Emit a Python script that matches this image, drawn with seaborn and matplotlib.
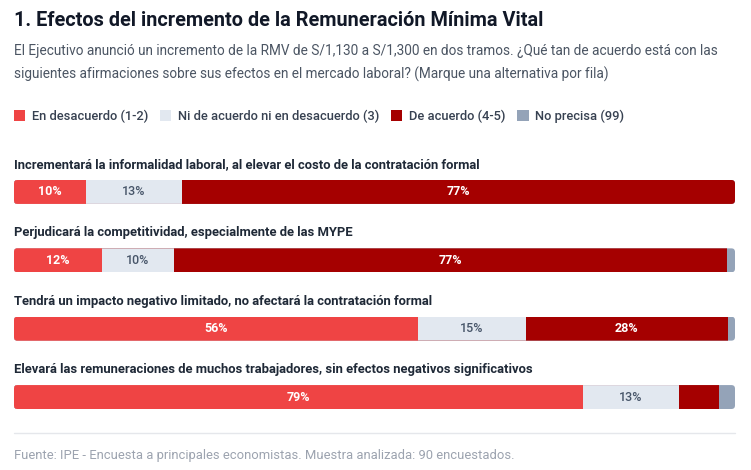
# Efectos del incremento de la RMV - stacked horizontal bars
import numpy as np
import pandas as pd
import matplotlib.pyplot as plt
import seaborn as sns
from matplotlib.patches import FancyBboxPatch, Patch
from matplotlib.lines import Line2D

# ---------------- data ----------------
statements = [
    "Incrementará la informalidad laboral, al elevar el costo de la contratación formal",
    "Perjudicará la competitividad, especialmente de las MYPE",
    "Tendrá un impacto negativo limitado, no afectará la contratación formal",
    "Elevará las remuneraciones de muchos trabajadores, sin efectos negativos significativos",
]
categories = ["En desacuerdo (1-2)", "Ni de acuerdo ni en desacuerdo (3)",
              "De acuerdo (4-5)", "No precisa (99)"]
desacuerdo = [10.0, 12.2, 56.0, 78.9]
neutral = [13.3, 10.0, 15.0, 13.3]
de_acuerdo = [76.7, 76.7, 28.0, 5.6]
no_precisa = [0.0, 1.1, 1.0, 2.2]

colors = ["#ef4444", "#e2e8f0", "#a50000", "#94a3b8"]
label_colors = ["white", "#475569", "white", "white"]

title = "1. Efectos del incremento de la Remuneración Mínima Vital"
subtitle = ("El Ejecutivo anunció un incremento de la RMV de S/1,130 a S/1,300 en dos tramos. "
            "¿Qué tan de acuerdo está con las\nsiguientes afirmaciones sobre sus efectos "
            "en el mercado laboral? (Marque una alternativa por fila)")
footer = "Fuente: IPE - Encuesta a principales economistas. Muestra analizada: 90 encuestados."

df = pd.DataFrame({
    "afirmacion": statements,
    categories[0]: desacuerdo,
    categories[1]: neutral,
    categories[2]: de_acuerdo,
    categories[3]: no_precisa,
})
cum = df[categories].cumsum(axis=1)

# ---------------- figure ----------------
sns.set_theme(style="white")
plt.rcParams["font.family"] = ["Roboto", "DejaVu Sans"]

W, H = 751, 470
fig = plt.figure(figsize=(W / 100, H / 100), dpi=100)
fig.patch.set_facecolor("white")

bar_h = 0.35
ax = fig.add_axes([14 / W, 1 - 409 / H, 721 / W, 229 / H])

# draw cumulative layers from the back to the front
for k in reversed(range(len(categories))):
    sns.barplot(x=cum[categories[k]], y=df["afirmacion"], color=colors[k],
                orient="h", width=bar_h, saturation=1, linewidth=0, ax=ax)

ax.set_xlim(0, 100)
ax.set_ylim(len(statements) - 1 + bar_h / 2, -bar_h / 2)
ax.axis("off")

# rounded ends for each row
px_x = 721 / 100
px_y = 229 / (len(statements) - 1 + bar_h)
for i in range(len(statements)):
    clip = FancyBboxPatch((0, i - bar_h / 2), 100, bar_h,
                          boxstyle="round,pad=0,rounding_size=0.5",
                          mutation_aspect=px_x / px_y,
                          transform=ax.transData, facecolor="none", edgecolor="none")
    for p in ax.patches:
        if abs(p.get_y() + p.get_height() / 2 - i) < 0.1:
            p.set_clip_path(clip)

# segment labels + row titles
for i, row in df.iterrows():
    left = 0
    for k, c in enumerate(categories):
        v = row[c]
        if v >= 8:
            ax.text(left + v / 2, i, f"{round(v)}%", ha="center", va="center",
                    fontsize=9, fontweight="bold" if label_colors[k] == "white" else "medium",
                    color=label_colors[k])
        left += v
    ax.text(0, i - 0.40, row["afirmacion"], ha="left", va="center", fontsize=9.4,
            fontweight="bold", color="#1f2937", clip_on=False)

# header
fig.text(14 / W, 1 - 20 / H, title, ha="left", va="center", fontsize=14.3,
         fontweight="bold", color="#111827")
fig.text(14 / W, 1 - 63 / H, subtitle, ha="left", va="center", fontsize=9.8,
         color="#4b5563", linespacing=1.7)

handles = [Patch(facecolor=c, edgecolor="none") for c in colors]
fig.legend(handles, categories, loc="center left", bbox_to_anchor=(2 / W, 1 - 116 / H),
           ncol=4, frameon=False, handlelength=0.9, handleheight=0.9,
           handletextpad=0.5, columnspacing=0.9,
           prop={"size": 9.3, "weight": "medium"}, labelcolor="#374151")

# footer
fig.add_artist(Line2D([14 / W, 735 / W], [1 - 433 / H] * 2, color="#e5e7eb", lw=1))
fig.text(14 / W, 1 - 455 / H, footer, ha="left", va="center", fontsize=9.4,
         color="#9ca3af")

plt.savefig("out.png", dpi=100, facecolor="white")
plt.close()
